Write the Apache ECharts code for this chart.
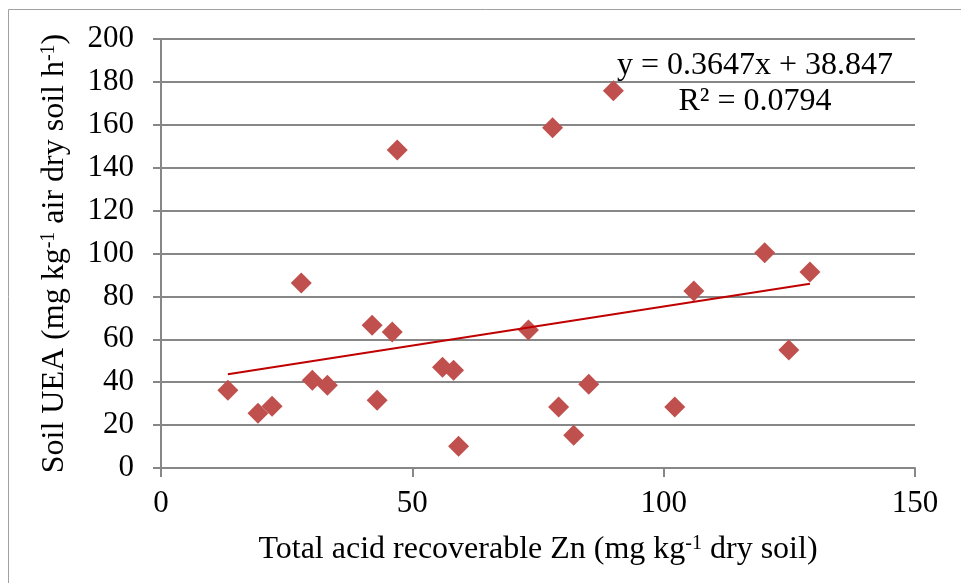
<!DOCTYPE html>
<html>
<head>
<meta charset="utf-8">
<script src="https://cdn.jsdelivr.net/npm/echarts@6/dist/echarts.min.js"></script>
<style>
  html, body { margin: 0; padding: 0; background: #fff; }
  #main { width: 961px; height: 583px; }
</style>
</head>
<body>
<div id="main"></div>
<script>
// Zn (x) vs soil UEA (y)
var znValues = [13.3, 19.3, 22.1, 27.9, 30.1, 33.1, 42.0, 43.0, 46.0, 47.0, 56.0, 58.2,
                59.2, 73.1, 77.9, 79.1, 82.1, 85.1, 90.0, 102.2, 106.0, 120.1, 124.9, 129.1];
var ueaValues = [36.3, 25.5, 28.8, 86.2, 40.9, 38.6, 66.6, 31.6, 63.4, 148.3, 47.0, 45.6,
                 10.1, 64.3, 158.6, 28.4, 15.3, 39.1, 175.9, 28.4, 82.5, 100.3, 55.0, 91.4];
var slope = 0.3647;
var intercept = 38.847;
var r2 = 0.0794;
var xTicks = [0, 50, 100, 150];
var yTicks = [0, 20, 40, 60, 80, 100, 120, 140, 160, 180, 200];

var points = znValues.map(function (x, i) { return [x, ueaValues[i]]; });
var xMin = Math.min.apply(null, znValues);
var xMax = Math.max.apply(null, znValues);
var trend = [[xMin, slope * xMin + intercept], [xMax, slope * xMax + intercept]];

var font = '"Liberation Serif", "Times New Roman", serif';
var gray = '#878787';
var rich = {
    a: { fontFamily: font, fontSize: 32, color: '#000' },
    s: { fontFamily: font, fontSize: 20, color: '#000', verticalAlign: 'top', padding: [0, 0, 12, 0] }
};

var myChart = echarts.init(document.getElementById('main'));
myChart.setOption({
    animation: false,
    textStyle: { fontFamily: font, color: '#000' },
    grid: { left: 161, right: 46, top: 39, bottom: 115 },
    graphic: [
        {   // outer frame
            type: 'rect',
            shape: { x: 8.5, y: 9.5, width: 1000, height: 1000 },
            style: { fill: 'none', stroke: '#a0a0a0', lineWidth: 1 }
        },
        {
            type: 'text', x: 755, y: 66,
            style: { text: 'y = ' + slope + 'x + ' + intercept, font: '32px ' + font,
                     fill: '#000', textAlign: 'center', textVerticalAlign: 'middle' }
        },
        {
            type: 'text', x: 755, y: 102,
            style: { text: 'R\u00b2 = ' + r2, font: '32px ' + font,
                     fill: '#000', textAlign: 'center', textVerticalAlign: 'middle' }
        }
    ],
    xAxis: {
        type: 'value', min: 0, max: 150, interval: 50,
        name: '{a|Total acid recoverable Zn (mg kg}{s|-1}{a| dry soil)}',
        nameLocation: 'middle', nameGap: 66,
        nameTextStyle: { rich: rich },
        axisLine: { show: true, lineStyle: { color: gray, width: 2 } },
        axisTick: { show: true, length: 9, lineStyle: { color: gray, width: 2 } },
        axisLabel: { fontSize: 31, fontFamily: font, color: '#000', margin: 20,
                     formatter: function (v) { return xTicks.indexOf(v) >= 0 ? v : ''; } },
        splitLine: { show: false }
    },
    yAxis: {
        type: 'value', min: 0, max: 200, interval: 20,
        name: '{a|Soil UEA (mg kg}{s|-1}{a| air dry soil h}{s|-1}{a|)}',
        nameLocation: 'middle', nameGap: 90, nameRotate: 90,
        nameTextStyle: { rich: rich },
        axisLine: { show: true, lineStyle: { color: gray, width: 2 } },
        axisTick: { show: true, length: 8, lineStyle: { color: gray, width: 2 } },
        axisLabel: { fontSize: 31, fontFamily: font, color: '#000', margin: 27,
                     formatter: function (v) { return yTicks.indexOf(v) >= 0 ? v : ''; } },
        splitLine: { show: true, lineStyle: { color: gray, width: 2 } }
    },
    series: [
        {
            name: 'UEA',
            type: 'scatter',
            symbol: 'diamond',
            symbolSize: 21,
            itemStyle: { color: '#c0504d', opacity: 1 },
            data: points,
            z: 3
        },
        {
            name: 'Linear (UEA)',
            type: 'line',
            data: trend,
            symbol: 'none',
            lineStyle: { color: '#c00000', width: 2 },
            z: 4
        }
    ]
});
</script>
</body>
</html>
